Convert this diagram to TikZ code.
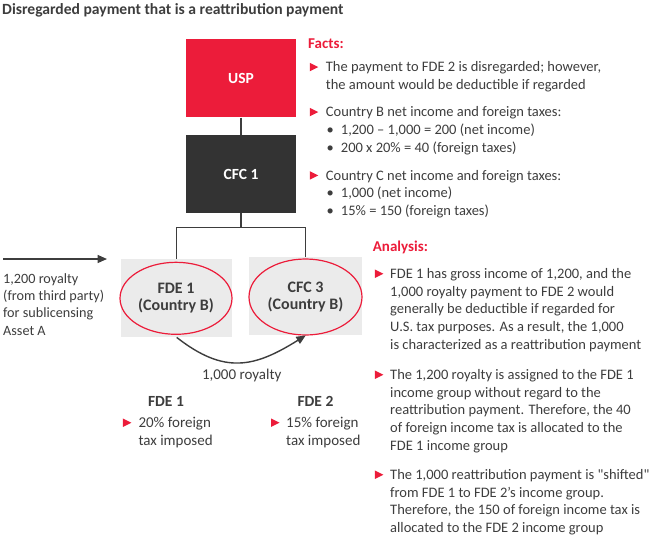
\documentclass[tikz,border=0pt]{standalone}
\usepackage{fontspec}
\setmainfont{Carlito}
\usetikzlibrary{positioning,arrows.meta,shapes.geometric,calc}
\definecolor{cred}{HTML}{EC1C3A}
\definecolor{cdark}{HTML}{333333}
\definecolor{ctext}{HTML}{3D3D3D}
\definecolor{cgrey}{HTML}{EBEBEB}
\newcommand{\mlines}[1]{\begin{tabular}[t]{@{}l@{}}#1\end{tabular}}
\tikzset{
 ent/.style={rectangle, minimum width=110pt, minimum height=78pt, inner sep=0pt,
 text=white, font=\bfseries\fontsize{15.5}{17}\selectfont},
 usp/.style={ent, fill=cred},
 cfc/.style={ent, fill=cdark},
 gbox/.style={rectangle, fill=cgrey, minimum width=111pt, minimum height=78pt, inner sep=0pt},
 ell/.style={ellipse, draw=cred, line width=1.2pt, fill=cgrey, inner sep=0pt,
 align=center, text=ctext, font=\bfseries\fontsize{16}{17}\selectfont},
 txt/.style={anchor=base west, inner sep=0pt, text=ctext,
 font=\fontsize{14.5}{17.7}\selectfont},
 hd/.style={anchor=base west, inner sep=0pt, text=cred, font=\bfseries\fontsize{15}{18}\selectfont},
 lbl/.style={anchor=base, inner sep=0pt, text=ctext, font=\fontsize{15}{17}\selectfont},
 mk/.style={isosceles triangle, isosceles triangle stretches, fill=cred, inner sep=0pt,
 minimum width=8.5pt, minimum height=8.5pt},
 ln/.style={draw=ctext, line width=1.3pt},
 fl/.style={-{Triangle[length=3.3mm,width=2.8mm]}, draw=ctext, line width=1.4pt},
}
\begin{document}
\begin{tikzpicture}[x=1pt,y=-1pt]
 \useasboundingbox (0,0) rectangle (650,544);
 % title
 \node[anchor=base west, inner sep=0pt, text=ctext, font=\bfseries\fontsize{15.6}{17}\selectfont]
 (title) at (2,14.5) {Disregarded payment that is a reattribution payment};
 % entities
 \node[usp] (USP) at (241,78.3) {USP};
 \node[cfc] (CFC) at (241,174) {CFC 1};
 \node[gbox] (FB) at (176.7,298.2) {};
 \node[gbox, minimum width=112.7pt] (CB) at (305.7,296.2) {};
 \node[ell, minimum width=112pt, minimum height=72pt] (FDE) at (176,298.3) {FDE 1\\(Country B)};
 \node[ell, minimum width=113pt, minimum height=76pt] (CFC3) at (305.5,297) {CFC 3\\(Country B)};
 \draw[ln] (USP) -- (CFC);
 \draw[ln] (CFC.south) -- ++(0,14.5) coordinate (jn);
 \draw[ln] (jn) -| (FB.north);
 \draw[ln] (jn) -| (CB.north);
 % third-party royalty (left)
 \coordinate (src) at (3,259);
 \coordinate (dst) at (107,259);
 \draw[fl] (src) -- (dst);
 \node[txt, font=\fontsize{14.2}{17.3}\selectfont] (R) at (3,283.3)
 {\mlines{1,200 royalty\\(from third party)\\for sublicensing\\Asset A}};
 % reattribution payment
 \draw[fl] (FB.south) to[out=-38,in=-148,looseness=1.2] (CB.south);
 \node[lbl] (roy) at (241.7,379.3) {1,000 royalty};
 % tax rates
 \node[lbl, font=\bfseries\fontsize{15.5}{17}\selectfont] (t1) at (166,406.7) {FDE 1};
 \node[lbl, font=\bfseries\fontsize{15.5}{17}\selectfont] (t2) at (315.5,406.7) {FDE 2};
 \node[txt, font=\fontsize{15}{17.7}\selectfont] (r1) at (138.3,427.3) {\mlines{20\% foreign\\tax imposed}};
 \node[txt, font=\fontsize{15}{17.7}\selectfont] (r2) at (286,427.3) {\mlines{15\% foreign\\tax imposed}};
 \node[mk] (mr1) at ($(r1.base west)+(-12.8,-4.6)$) {};
 \node[mk] (mr2) at ($(r2.base west)+(-12.3,-4.6)$) {};
 % facts
 \node[hd] (facts) at (308,48) {Facts:};
 \node[txt] (f1) at (325.7,71.7) {\mlines{The payment to FDE 2 is disregarded; however,\\the amount would be deductible if regarded}};
 \node[txt] (f2) at (325.7,116.7) {Country B net income and foreign taxes:};
 \node[txt] (f2b) at (326.5,134.3) {\mlines{\textbullet\\\textbullet}};
 \node[txt] (f2s) at (340.7,134.3) {\mlines{1,200 -- 1,000 = 200 (net income)\\200 x 20\% = 40 (foreign taxes)}};
 \node[txt] (f3) at (325.7,180) {Country C net income and foreign taxes:};
 \node[txt] (f3b) at (326.5,197.7) {\mlines{\textbullet\\\textbullet}};
 \node[txt] (f3s) at (340.7,197.7) {\mlines{1,000 (net income)\\15\% = 150 (foreign taxes)}};
 \foreach \n in {f1,f2,f3}
 \node[mk] (m\n) at ($(\n.base west)+(-13.3,-4.6)$) {};
 % analysis
 \node[hd] (ana) at (372.7,251.7) {Analysis:};
 \node[txt] (a1) at (390,278.3) {\mlines{FDE 1 has gross income of 1,200, and the\\1,000 royalty payment to FDE 2 would\\generally be deductible if regarded for\\U.S. tax purposes. As a result, the 1,000\\is characterized as a reattribution payment}};
 \node[txt] (a2) at (390,379.3) {\mlines{The 1,200 royalty is assigned to the FDE 1\\income group without regard to the\\reattribution payment. Therefore, the 40\\of foreign income tax is allocated to the\\FDE 1 income group}};
 \node[txt] (a3) at (390,479.3) {\mlines{The 1,000 reattribution payment is \textquotedbl shifted\textquotedbl\\from FDE 1 to FDE 2's income group.\\Therefore, the 150 of foreign income tax is\\allocated to the FDE 2 income group}};
 \foreach \n in {a1,a2,a3}
 \node[mk] (m\n) at ($(\n.base west)+(-12.5,-4.6)$) {};
\end{tikzpicture}
\end{document}
